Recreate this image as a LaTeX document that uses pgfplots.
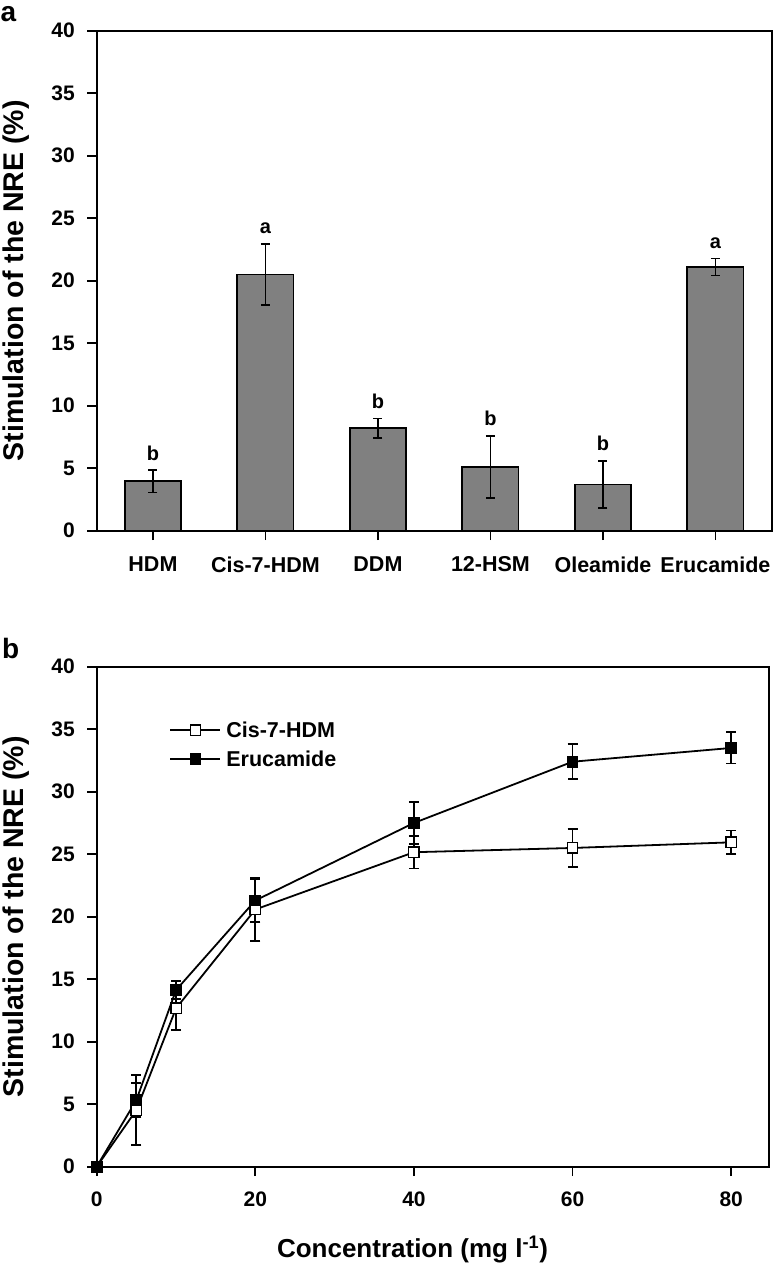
\documentclass[border=0pt]{standalone}
\usepackage{pgfplots}
\pgfplotsset{compat=1.18}
\usepackage{pgfplotstable}
\usepackage{fontspec}
\setmainfont{Liberation Sans}
\definecolor{bargray}{RGB}{128,128,128}

\pgfplotstableread{
x y e
0 3.95 0.90
1 20.5 2.45
2 8.2 0.77
3 5.1 2.5
4 3.7 1.9
5 21.1 0.68
}\bardata

\pgfplotstableread{
x y e
0 0 0
5 4.53 2.8
10 12.67 1.73
20 20.58 2.5
40 25.16 1.3
60 25.5 1.5
80 25.95 0.95
}\cisdata

\pgfplotstableread{
x y e
0 0 0
5 5.33 1.35
10 14.13 0.72
20 21.3 1.7
40 27.5 1.7
60 32.4 1.4
80 33.5 1.25
}\erudata

\begin{document}
\begin{tikzpicture}
\useasboundingbox (0,0) rectangle (774bp,-1265bp);
\pgfplotsset{
  myaxis/.style={
    scale only axis, height=500bp,
    tick align=outside, xtick pos=left, ytick pos=left,
    major tick length=9.4bp,
    every tick/.style={black, line width=1.8bp},
    axis line style={line width=1.8bp},
    ymin=0, ymax=40, ytick={0,5,...,40},
    /pgf/number format/assume math mode=true,
    tick label style={font=\fontsize{21bp}{24bp}\selectfont\bfseries},
    yticklabel style={anchor=east, inner sep=0pt, xshift=-12.3bp},
    ylabel={Stimulation of the NRE (\%)},
    ylabel style={font=\fontsize{28.5bp}{30bp}\selectfont\bfseries, anchor=base},
  }
}
\begin{axis}[myaxis,
  at={(96.7bp,-30.7bp)}, anchor=north west,
  width=675bp,
  xmin=-0.5, xmax=5.5,
  xtick={0,1,2,3,4,5},
  xticklabels={HDM,Cis-7-HDM,DDM,12-HSM,Oleamide,Erucamide},
  xticklabel style={anchor=north, inner sep=0pt, yshift=-16.6bp, font=\fontsize{21.5bp}{24bp}\selectfont\bfseries},
  ylabel style={at={(axis description cs:-0.1087,0.5)}},
]
\addplot[ybar, bar width=0.5, fill=bargray, draw=black, line width=1.8bp,
  error bars/.cd, y dir=both, y explicit,
  error bar style={line width=1.8bp, black},
  error mark options={rotate=90, mark size=4.5bp, line width=1.8bp, black}]
  table[x=x, y=y, y error=e]{\bardata};
\begin{scope}[every node/.style={font=\fontsize{20bp}{20bp}\selectfont\bfseries, anchor=base, inner sep=0pt, yshift=10bp}]
\node at (axis cs:0,4.85) {b};
\node at (axis cs:1,22.95) {a};
\node at (axis cs:2,8.97) {b};
\node at (axis cs:3,7.6) {b};
\node at (axis cs:4,5.6) {b};
\node at (axis cs:5,21.78) {a};
\end{scope}
\end{axis}
\node[anchor=base west, inner sep=0pt, font=\fontsize{28bp}{28bp}\selectfont\bfseries] at (0.5bp,-21.7bp) {a};

\begin{axis}[myaxis,
  at={(96.7bp,-666.7bp)}, anchor=north west,
  width=672.6bp,
  xmin=0, xmax=84.8,
  xtick={0,20,40,60,80},
  xticklabel style={anchor=north, inner sep=0pt, yshift=-15.6bp},
  ylabel style={at={(axis description cs:-0.1091,0.5)}},
  xlabel={Concentration (mg l\textsuperscript{-1})},
  xlabel style={font=\fontsize{26bp}{28bp}\selectfont\bfseries, anchor=base, at={(axis description cs:0.4695,-0.1812)}},
  legend style={at={(axis description cs:0.108,0.844)}, anchor=west, draw=none, fill=none, inner sep=0pt,
    font=\fontsize{21.5bp}{24bp}\selectfont\bfseries, row sep=8bp,
    /tikz/every odd column/.append style={column sep=3bp}},
  legend cell align=left,
  legend image code/.code={\draw[mark repeat=2, mark phase=2, #1] plot coordinates {(0bp,0bp) (25bp,0bp) (50bp,0bp)};},
]
\addplot[black, line width=1.8bp, mark=square*, mark options={fill=white, line width=1.4bp}, mark size=5.2bp,
  error bars/.cd, y dir=both, y explicit,
  error bar style={line width=1.8bp, black},
  error mark options={rotate=90, mark size=5bp, line width=1.8bp, black}]
  table[x=x, y=y, y error=e]{\cisdata};
\addlegendentry{Cis-7-HDM}
\addplot[black, line width=1.8bp, mark=square*, mark options={fill=black, line width=1.4bp}, mark size=5.2bp,
  error bars/.cd, y dir=both, y explicit,
  error bar style={line width=1.8bp, black},
  error mark options={rotate=90, mark size=5bp, line width=1.8bp, black}]
  table[x=x, y=y, y error=e]{\erudata};
\addlegendentry{Erucamide}
\end{axis}
\node[anchor=base west, inner sep=0pt, font=\fontsize{28bp}{28bp}\selectfont\bfseries] at (2bp,-658.3bp) {b};
\end{tikzpicture}
\end{document}
